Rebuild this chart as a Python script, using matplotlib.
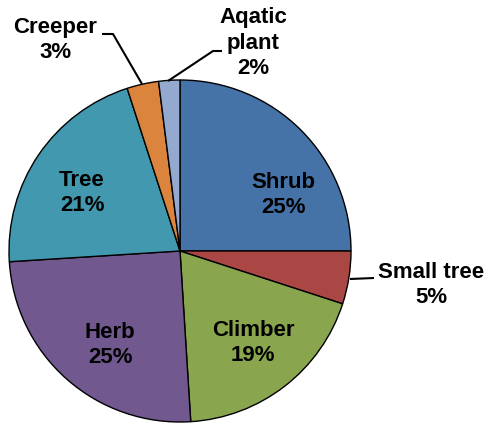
import matplotlib
matplotlib.use("Agg")
import matplotlib.pyplot as plt

categories = ["Shrub", "Small tree", "Climber", "Herb", "Tree", "Creeper", "Aqatic\nplant"]
values = [25, 5, 19, 25, 21, 3, 2]
colors = ["#4572A7", "#AA4643", "#89A54E", "#71588F", "#4198AF", "#DB843D", "#93A9CF"]

W, H = 486, 424
fig = plt.figure(figsize=(W / 100, H / 100), dpi=100)
ax = fig.add_axes([0, 0, 1, 1])

def Y(py):
    return H - py

cx, cy, r = 180, 251, 171
ax.pie(values, colors=colors, startangle=90, counterclock=False,
       center=(cx, Y(cy)), radius=r, frame=True,
       wedgeprops=dict(edgecolor="black", linewidth=1.0))
ax.set_xlim(0, W)
ax.set_ylim(0, H)
ax.set_aspect("equal")
ax.axis("off")

# label block centres (pixel coords)
label_pos = [(283, 195), (431, 285), (253, 343), (110, 345), (82, 193), (55, 40), (253, 43)]
font = dict(family=["Liberation Sans", "DejaVu Sans"], fontweight="bold", fontsize=16, color="black",
            ha="center", va="center", linespacing=1.3)
for cat, v, (px, py) in zip(categories, values, label_pos):
    ax.text(px, Y(py), f"{cat}\n{v}%", **font)

# leader lines
lw = 1.5
ax.plot([350, 374], [Y(279), Y(278)], color="black", lw=lw, solid_capstyle="butt")
ax.plot([102, 113, 142], [Y(34), Y(34), Y(84)], color="black", lw=lw, solid_capstyle="butt")
ax.plot([222, 213, 168], [Y(51), Y(51), Y(81)], color="black", lw=lw, solid_capstyle="butt")

fig.savefig("out.png", dpi=100)
